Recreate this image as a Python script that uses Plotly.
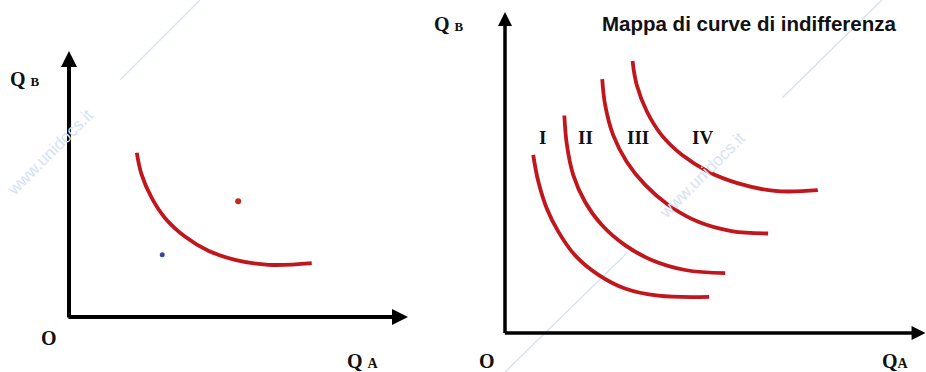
import plotly.graph_objects as go

W, H = 926, 372

# --- pannello sinistro: una curva di indifferenza e due panieri ---
left_qa = [2.00, 2.14, 2.44, 2.83, 3.42, 4.11, 4.90, 5.88, 7.16]
left_qb = [4.94, 4.29, 3.58, 2.98, 2.42, 1.99, 1.72, 1.57, 1.62]
red_basket_qa, red_basket_qb = [4.99], [3.48]
blue_basket_qa, blue_basket_qb = [2.75], [1.87]

# --- pannello destro: mappa di curve di indifferenza ---
curve_I_qa = [0.67, 0.79, 0.99, 1.27, 1.66, 2.22, 2.85, 3.64, 4.85]
curve_I_qb = [4.44, 3.78, 3.11, 2.52, 1.94, 1.45, 1.11, 0.93, 0.90]
curve_II_qa = [1.41, 1.47, 1.62, 1.90, 2.30, 2.85, 3.48, 4.28, 5.23]
curve_II_qb = [5.42, 4.69, 3.94, 3.27, 2.69, 2.19, 1.82, 1.57, 1.49]
curve_III_qa = [2.31, 2.38, 2.57, 2.89, 3.33, 3.88, 4.59, 5.38, 6.25]
curve_III_qb = [6.33, 5.68, 4.93, 4.27, 3.69, 3.19, 2.77, 2.54, 2.48]
curve_IV_qa = [3.03, 3.13, 3.37, 3.72, 4.20, 4.83, 5.54, 6.41, 7.43]
curve_IV_qb = [6.78, 6.18, 5.52, 4.93, 4.44, 4.02, 3.73, 3.54, 3.56]

curve_labels = ["I", "II", "III", "IV"]
label_qa = [0.90, 1.92, 3.16, 4.68]
label_qb = [4.86, 4.86, 4.86, 4.86]

RED = "#c0161c"
SERIF = "Liberation Serif"


def paper(px, py):
    """pixel -> coordinate paper"""
    return px / W, 1 - py / H


fig = go.Figure()

curve_line = dict(color=RED, width=3.8, shape="spline", smoothing=1.1)

fig.add_trace(go.Scatter(x=left_qa, y=left_qb, mode="lines", line=curve_line,
                         xaxis="x", yaxis="y"))
fig.add_trace(go.Scatter(x=red_basket_qa, y=red_basket_qb, mode="markers",
                         marker=dict(color="#c42a1e", size=6),
                         xaxis="x", yaxis="y"))
fig.add_trace(go.Scatter(x=blue_basket_qa, y=blue_basket_qb, mode="markers",
                         marker=dict(color="#3848a0", size=5),
                         xaxis="x", yaxis="y"))

for qa, qb in [(curve_I_qa, curve_I_qb), (curve_II_qa, curve_II_qb),
               (curve_III_qa, curve_III_qb), (curve_IV_qa, curve_IV_qb)]:
    fig.add_trace(go.Scatter(x=qa, y=qb, mode="lines", line=curve_line,
                             xaxis="x2", yaxis="y2"))

annotations = []

# assi con freccia (la punta deve stare dentro il range, altrimenti plotly la nasconde)
def axis_arrow(xref, yref, x, y, ax, ay, width):
    return dict(xref=xref, yref=yref, axref=xref, ayref=yref,
                x=x, y=y, ax=ax, ay=ay, text="", showarrow=True,
                arrowhead=2, arrowsize=0.8, arrowwidth=width, arrowcolor="black")

annotations.append(axis_arrow("x", "y", 0, 8.0, 0, -0.06, 4))
annotations.append(axis_arrow("x", "y", 10.0, 0, -0.06, 0, 4))
annotations.append(axis_arrow("x2", "y2", 0, 8.0, 0, -0.04, 3.5))
annotations.append(axis_arrow("x2", "y2", 9.99, 0, -0.04, 0, 3.5))

for name, qa, qb in zip(curve_labels, label_qa, label_qb):
    annotations.append(dict(xref="x2", yref="y2", x=qa, y=qb, text="<b>%s</b>" % name,
                            showarrow=False,
                            font=dict(family=SERIF, size=19, color="#111")))


def label(px, py, text, size=20, xanchor="left", family=SERIF):
    x, y = paper(px, py)
    return dict(xref="paper", yref="paper", x=x, y=y, text=text, showarrow=False,
                xanchor=xanchor, yanchor="middle",
                font=dict(family=family, size=size, color="#111"))

def sub(letter, size):
    return "<span style='font-size:%dpx'>%s</span>" % (size, letter)

annotations += [
    label(8, 79, "<b>Q " + sub("B", 13) + "</b>"),
    label(432, 24, "<b>Q " + sub("B", 13) + "</b>"),
    label(49, 338, "<b>O</b>", xanchor="center"),
    label(487, 361, "<b>O</b>", xanchor="center"),
    label(345, 361, "<b>Q " + sub("A", 14) + "</b>"),
    label(880, 361, "<b>Q" + sub("A", 14) + "</b>"),
    label(749, 24, "<b>Mappa di curve di indifferenza</b>", size=20.5,
          xanchor="center", family="Liberation Sans"),
]

# filigrana
for px, py in [(50, 152), (702, 175)]:
    x, y = paper(px, py)
    annotations.append(dict(xref="paper", yref="paper", x=x, y=y, text="www.unidocs.it",
                            showarrow=False, textangle=-45, xanchor="center", yanchor="middle",
                            font=dict(family="Liberation Sans", size=17, color="#d6e2f5")))

shapes = []
for (x0, y0), (x1, y1) in [((120, 80), (200, 0)), ((782, 98), (882, 0)), ((505, 372), (627, 253))]:
    a0, b0 = paper(x0, y0)
    a1, b1 = paper(x1, y1)
    shapes.append(dict(type="line", xref="paper", yref="paper", x0=a0, y0=b0, x1=a1, y1=b1,
                       line=dict(color="#d3dff3", width=1.2), layer="below"))

hidden = dict(showgrid=False, zeroline=False, showticklabels=False, showline=False, ticks="")

fig.update_layout(
    width=W, height=H,
    margin=dict(l=0, r=0, t=0, b=0),
    paper_bgcolor="white", plot_bgcolor="rgba(0,0,0,0)",
    showlegend=False,
    xaxis=dict(domain=[69 / W, 408 / W], range=[0, 10], **hidden),
    yaxis=dict(domain=[1 - 317 / H, 1 - 51 / H], range=[0, 8], **hidden),
    xaxis2=dict(domain=[505 / W, 1.0], range=[0, 10], anchor="y2", **hidden),
    yaxis2=dict(domain=[1 - 333 / H, 1 - 12 / H], range=[0, 8], anchor="x2", **hidden),
    annotations=annotations,
    shapes=shapes,
)

# niente margine del body, cosi' il grafico parte dall'angolo in alto a sinistra
fig.write_html("out.html", config={"displayModeBar": False},
               post_script="document.body.style.margin='0';document.body.style.overflow='hidden';")
